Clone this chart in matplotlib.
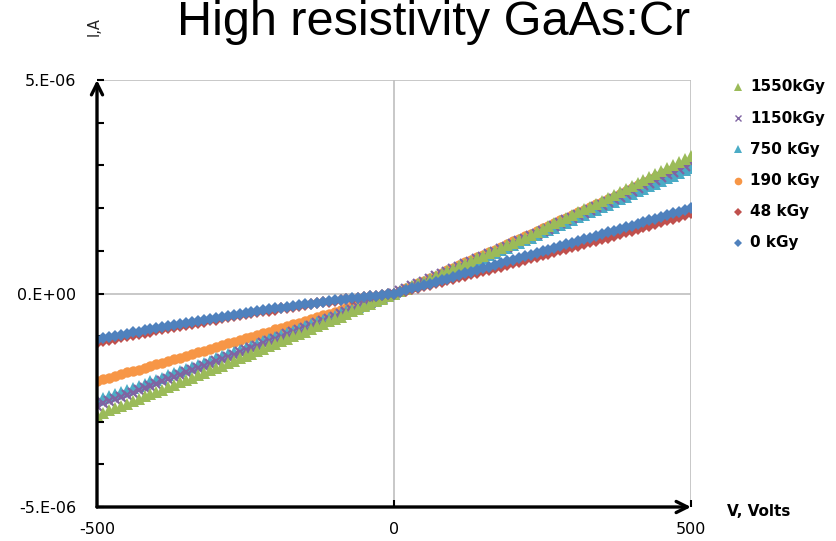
import numpy as np
import matplotlib
matplotlib.use("Agg")
import matplotlib.pyplot as plt
from matplotlib.lines import Line2D

# Bias sweep in volts, 10 V step
volts = np.arange(-500, 501, 10)

# Reverse branch: |I| in uA, listed from -500 V up to 0 V
rev_0kgy = [1.08, 1.05, 1.02, 0.99, 0.97, 0.94, 0.91, 0.89, 0.86, 0.83,
            0.81, 0.78, 0.76, 0.73, 0.71, 0.68, 0.66, 0.64, 0.61, 0.59,
            0.57, 0.54, 0.52, 0.50, 0.48, 0.46, 0.44, 0.41, 0.39, 0.37,
            0.35, 0.33, 0.31, 0.29, 0.27, 0.25, 0.24, 0.22, 0.20, 0.18,
            0.16, 0.15, 0.13, 0.11, 0.10, 0.08, 0.06, 0.05, 0.03, 0.02, 0.00]
rev_48kgy = [1.15, 1.12, 1.09, 1.06, 1.03, 1.00, 0.98, 0.95, 0.92, 0.89,
             0.86, 0.84, 0.81, 0.78, 0.76, 0.73, 0.71, 0.68, 0.66, 0.63,
             0.61, 0.58, 0.56, 0.53, 0.51, 0.49, 0.46, 0.44, 0.42, 0.40,
             0.38, 0.35, 0.33, 0.31, 0.29, 0.27, 0.25, 0.23, 0.21, 0.19,
             0.17, 0.16, 0.14, 0.12, 0.10, 0.08, 0.07, 0.05, 0.03, 0.02, 0.00]
rev_190kgy = [2.05, 2.01, 1.97, 1.93, 1.89, 1.85, 1.81, 1.78, 1.74, 1.70,
              1.66, 1.62, 1.58, 1.54, 1.50, 1.46, 1.42, 1.38, 1.34, 1.29,
              1.25, 1.21, 1.17, 1.13, 1.09, 1.05, 1.01, 0.97, 0.93, 0.89,
              0.84, 0.80, 0.76, 0.72, 0.68, 0.64, 0.59, 0.55, 0.51, 0.47,
              0.43, 0.38, 0.34, 0.30, 0.26, 0.21, 0.17, 0.13, 0.09, 0.04, 0.00]
rev_750kgy = [2.50, 2.45, 2.40, 2.36, 2.31, 2.26, 2.21, 2.16, 2.11, 2.06,
              2.02, 1.97, 1.92, 1.87, 1.82, 1.77, 1.72, 1.67, 1.62, 1.57,
              1.52, 1.47, 1.42, 1.37, 1.33, 1.28, 1.23, 1.18, 1.12, 1.07,
              1.02, 0.97, 0.92, 0.87, 0.82, 0.77, 0.72, 0.67, 0.62, 0.57,
              0.52, 0.46, 0.41, 0.36, 0.31, 0.26, 0.21, 0.16, 0.10, 0.05, 0.00]
rev_1150kgy = [2.63, 2.57, 2.52, 2.47, 2.42, 2.37, 2.32, 2.27, 2.22, 2.16,
               2.11, 2.06, 2.01, 1.96, 1.91, 1.85, 1.80, 1.75, 1.70, 1.65,
               1.59, 1.54, 1.49, 1.44, 1.38, 1.33, 1.28, 1.23, 1.17, 1.12,
               1.07, 1.02, 0.96, 0.91, 0.86, 0.80, 0.75, 0.70, 0.64, 0.59,
               0.54, 0.48, 0.43, 0.38, 0.32, 0.27, 0.22, 0.16, 0.11, 0.05, 0.00]
rev_1550kgy = [2.85, 2.80, 2.74, 2.69, 2.63, 2.58, 2.52, 2.47, 2.41, 2.36,
               2.30, 2.25, 2.19, 2.14, 2.08, 2.03, 1.97, 1.91, 1.86, 1.80,
               1.75, 1.69, 1.63, 1.58, 1.52, 1.46, 1.41, 1.35, 1.29, 1.23,
               1.18, 1.12, 1.06, 1.00, 0.94, 0.89, 0.83, 0.77, 0.71, 0.65,
               0.59, 0.54, 0.48, 0.42, 0.36, 0.30, 0.24, 0.18, 0.12, 0.06, 0.00]

# Forward branch: I in uA from +10 V to +500 V
fwd_0kgy = [0.04, 0.08, 0.12, 0.16, 0.20, 0.23, 0.27, 0.31, 0.35, 0.39,
            0.43, 0.47, 0.51, 0.55, 0.59, 0.63, 0.67, 0.71, 0.75, 0.79,
            0.83, 0.87, 0.91, 0.95, 0.99, 1.03, 1.07, 1.11, 1.15, 1.19,
            1.23, 1.27, 1.31, 1.35, 1.39, 1.43, 1.47, 1.51, 1.55, 1.59,
            1.63, 1.67, 1.71, 1.75, 1.80, 1.84, 1.88, 1.92, 1.96, 2.00]
fwd_48kgy = [0.03, 0.07, 0.10, 0.14, 0.17, 0.21, 0.24, 0.28, 0.31, 0.35,
             0.38, 0.42, 0.45, 0.49, 0.53, 0.56, 0.60, 0.63, 0.67, 0.71,
             0.74, 0.78, 0.82, 0.86, 0.89, 0.93, 0.97, 1.01, 1.04, 1.08,
             1.12, 1.16, 1.20, 1.24, 1.28, 1.31, 1.35, 1.39, 1.43, 1.47,
             1.51, 1.55, 1.59, 1.63, 1.67, 1.71, 1.75, 1.79, 1.83, 1.88]
fwd_190kgy = [0.06, 0.12, 0.18, 0.24, 0.30, 0.36, 0.42, 0.48, 0.54, 0.60,
              0.66, 0.73, 0.79, 0.85, 0.91, 0.97, 1.03, 1.09, 1.15, 1.22,
              1.28, 1.34, 1.40, 1.46, 1.53, 1.59, 1.65, 1.71, 1.77, 1.84,
              1.90, 1.96, 2.02, 2.09, 2.15, 2.21, 2.27, 2.34, 2.40, 2.46,
              2.53, 2.59, 2.65, 2.72, 2.78, 2.84, 2.91, 2.97, 3.04, 3.10]
fwd_750kgy = [0.06, 0.11, 0.17, 0.22, 0.28, 0.33, 0.39, 0.45, 0.50, 0.56,
              0.61, 0.67, 0.73, 0.79, 0.84, 0.90, 0.96, 1.02, 1.07, 1.13,
              1.19, 1.25, 1.31, 1.37, 1.43, 1.48, 1.54, 1.60, 1.66, 1.72,
              1.78, 1.84, 1.90, 1.96, 2.02, 2.08, 2.14, 2.21, 2.27, 2.33,
              2.39, 2.45, 2.51, 2.57, 2.64, 2.70, 2.76, 2.82, 2.89, 2.95]
fwd_1150kgy = [0.06, 0.11, 0.17, 0.23, 0.28, 0.34, 0.40, 0.45, 0.51, 0.57,
               0.63, 0.69, 0.74, 0.80, 0.86, 0.92, 0.98, 1.04, 1.10, 1.16,
               1.22, 1.28, 1.34, 1.40, 1.46, 1.52, 1.58, 1.65, 1.71, 1.77,
               1.83, 1.89, 1.96, 2.02, 2.08, 2.15, 2.21, 2.27, 2.34, 2.40,
               2.46, 2.53, 2.59, 2.66, 2.72, 2.79, 2.85, 2.92, 2.98, 3.05]
fwd_1550kgy = [0.06, 0.11, 0.17, 0.23, 0.28, 0.34, 0.40, 0.46, 0.52, 0.58,
               0.64, 0.70, 0.76, 0.82, 0.88, 0.94, 1.00, 1.06, 1.13, 1.19,
               1.25, 1.31, 1.38, 1.44, 1.51, 1.57, 1.64, 1.70, 1.77, 1.83,
               1.90, 1.97, 2.03, 2.10, 2.17, 2.24, 2.30, 2.37, 2.44, 2.51,
               2.58, 2.65, 2.72, 2.79, 2.86, 2.94, 3.01, 3.08, 3.15, 3.23]

# Legend order (top to bottom)
doses = ["1550kGy", "1150kGy", "750 kGy", "190 kGy", "48 kGy", "0 kGy"]
branches = {
    "1550kGy": (rev_1550kgy, fwd_1550kgy),
    "1150kGy": (rev_1150kgy, fwd_1150kgy),
    "750 kGy": (rev_750kgy, fwd_750kgy),
    "190 kGy": (rev_190kgy, fwd_190kgy),
    "48 kGy": (rev_48kgy, fwd_48kgy),
    "0 kGy": (rev_0kgy, fwd_0kgy),
}

# Excel-2010 palette and markers per dose
STYLE = {
    "1550kGy": dict(color="#9BBB59", marker="^", ms=8.0),
    "1150kGy": dict(color="#8064A2", marker="x", ms=6.5),
    "750 kGy": dict(color="#4BACC6", marker="^", ms=8.0),
    "190 kGy": dict(color="#F79646", marker="o", ms=7.5),
    "48 kGy": dict(color="#C0504D", marker="D", ms=6.5),
    "0 kGy": dict(color="#4F81BD", marker="D", ms=6.5),
}
# later entries end up on top
DRAW_ORDER = ["190 kGy", "750 kGy", "1150kGy", "1550kGy", "48 kGy", "0 kGy"]


def current(dose):
    rev, fwd = branches[dose]
    assert len(rev) == 51 and len(fwd) == 50
    ua = np.concatenate([-np.asarray(rev), np.asarray(fwd)])
    return ua * 1e-6


fig = plt.figure(figsize=(8.37, 5.41), dpi=100, facecolor="white")
ax = fig.add_axes([97 / 837, 34 / 541, 594 / 837, 427 / 541])

for dose in DRAW_ORDER:
    st = STYLE[dose]
    mew = 1.6 if st["marker"] == "x" else 0
    ax.plot(volts, current(dose), linestyle="none", marker=st["marker"],
            markersize=st["ms"], color=st["color"], markeredgewidth=mew)

ax.set_xlim(-500, 500)
ax.set_ylim(-5e-6, 5e-6)

# grid only at the labelled values
for gx in (0, 500):
    ax.axvline(gx, color="#BFBFBF", lw=1.2, zorder=0)
for gy in (0, 5e-6):
    ax.axhline(gy, color="#BFBFBF", lw=1.2, zorder=0)

for sp in ax.spines.values():
    sp.set_visible(False)

ax.set_xticks([-500, 0, 500])
ax.set_xticklabels(["-500", "0", "500"])
ax.set_yticks([-5e-6, 0, 5e-6])
ax.set_yticklabels(["-5.E-06", "0.E+00", "5.E-06"])
ax.set_yticks(np.arange(-4e-6, 4.5e-6, 1e-6), minor=True)
ax.tick_params(axis="both", which="both", direction="in", length=5,
               width=1.5, color="black", labelsize=11.5)
ax.tick_params(axis="y", pad=15)
ax.tick_params(axis="x", pad=11)

# axis lines with arrow heads
arrow = dict(arrowstyle="->", lw=2.4, color="black", mutation_scale=20,
             shrinkA=0, shrinkB=0)
ax.annotate("", xy=(0, 1), xytext=(0, 0), xycoords="axes fraction",
            textcoords="axes fraction", arrowprops=arrow, annotation_clip=False)
ax.annotate("", xy=(1, 0), xytext=(0, 0), xycoords="axes fraction",
            textcoords="axes fraction", arrowprops=arrow, annotation_clip=False)

fig.text(434 / 837, 1 - 35 / 541, "High resistivity GaAs:Cr",
         family="Liberation Sans", fontsize=35, ha="center", va="baseline")
fig.text(94 / 837, 1 - 27 / 541, "I,A", rotation=90, fontsize=10.5,
         ha="center", va="center", color="#222222")
fig.text(727 / 837, 1 - 511 / 541, "V, Volts", fontsize=11,
         fontweight="bold", ha="left", va="center")

# hand-placed legend on the right
for k, dose in enumerate(doses):
    st = STYLE[dose]
    y = 1 - (87 + 31.2 * k) / 541
    mew = 1.0 if st["marker"] == "x" else 0
    fig.add_artist(Line2D([738 / 837], [y], transform=fig.transFigure,
                          marker=st["marker"], markersize=st["ms"] - 2,
                          color=st["color"], markeredgewidth=mew,
                          linestyle="none"))
    fig.text(750 / 837, y, dose, fontsize=11, fontweight="bold",
             ha="left", va="center")

fig.savefig("out.png", dpi=100, facecolor="white")
